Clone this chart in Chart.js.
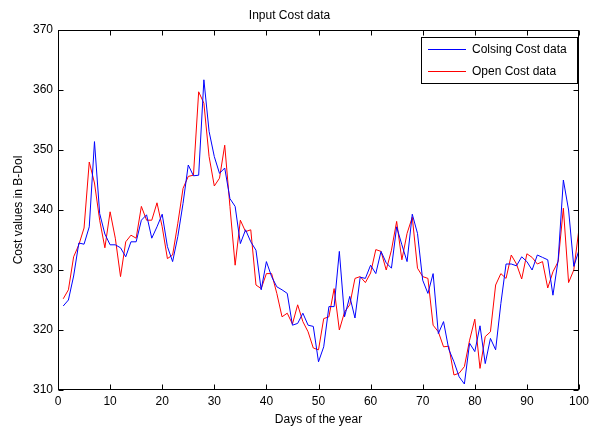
<!DOCTYPE html>
<html>
<head>
<meta charset="utf-8">
<script src="https://cdn.jsdelivr.net/npm/chart.js@4.4.1/dist/chart.umd.min.js"></script>
<style>
  html, body { margin: 0; padding: 0; background: #ffffff; }
  #wrap { width: 596px; height: 430px; position: relative; }
</style>
</head>
<body>
<div id="wrap"><canvas id="c" width="596" height="430"></canvas></div>
<script>
const days = [1,2,3,4,5,6,7,8,9,10,11,12,13,14,15,16,17,18,19,20,
  21,22,23,24,25,26,27,28,29,30,31,32,33,34,35,36,37,38,39,40,
  41,42,43,44,45,46,47,48,49,50,51,52,53,54,55,56,57,58,59,60,
  61,62,63,64,65,66,67,68,69,70,71,72,73,74,75,76,77,78,79,80,
  81,82,83,84,85,86,87,88,89,90,91,92,93,94,95,96,97,98,99,100];

const closingCost = [324.0,325.0,329.0,334.5,334.3,337.2,351.4,339.4,336.0,334.2,
  334.2,333.7,332.2,334.7,334.7,338.3,339.2,335.3,337.2,339.3,
  333.9,331.4,335.6,341.1,347.5,345.7,345.8,361.7,353.1,348.9,
  346.1,347.0,341.9,340.6,334.4,336.7,334.7,333.3,326.7,331.4,
  328.9,327.2,326.7,326.1,320.8,321.1,322.8,320.8,320.6,314.7,
  317.2,323.9,323.9,333.1,322.2,325.6,322.0,328.8,328.6,330.8,
  329.4,333.1,331.2,330.3,337.2,334.2,331.4,339.3,336.1,328.3,
  326.1,329.4,319.4,321.4,316.8,314.7,312.2,311.0,317.8,316.4,
  320.7,314.4,318.6,316.7,324.4,331.0,331.0,330.7,332.2,331.4,
  330.0,332.5,332.1,331.7,325.8,331.7,345.0,340.0,330.6,333.3];

const openCost = [325.2,326.7,332.2,334.2,337.0,348.0,344.5,338.3,333.7,339.7,
  335.3,328.9,334.7,335.8,335.3,340.6,338.3,338.3,341.2,337.2,
  331.9,332.5,337.8,343.6,345.6,345.8,359.7,357.8,348.9,344.0,
  345.3,350.8,340.6,330.8,338.3,336.4,336.7,327.5,326.9,329.4,
  329.4,326.1,322.2,322.8,321.0,324.2,321.4,319.7,317.0,316.7,
  321.9,322.2,326.9,320.0,323.0,324.2,328.6,328.9,327.9,329.5,
  333.4,333.1,330.0,333.3,338.1,331.7,336.1,338.8,330.3,328.9,
  328.6,320.8,319.7,317.2,317.3,312.5,312.8,313.9,318.3,321.8,
  313.6,318.9,319.7,327.5,329.4,328.6,332.5,331.0,328.5,332.7,
  332.1,331.0,331.4,327.0,329.7,331.4,340.3,327.9,330.0,336.9];

const seriesNames = ['Colsing Cost data', 'Open Cost data'];
const xTickValues = [0,10,20,30,40,50,60,70,80,90,100];
const yTickValues = [310,320,330,340,350,360,370];

const FONT = "'Liberation Sans', Arial, Helvetica, sans-serif";

const boxPlugin = {
  id: 'matlabBox',
  afterDraw(chart) {
    const ctx = chart.ctx;
    const a = chart.chartArea;
    const xs = chart.scales.x, ys = chart.scales.y;
    ctx.save();
    ctx.strokeStyle = '#000000';
    ctx.lineWidth = 1;
    const L = Math.round(a.left) + 0.5, R = Math.round(a.right) - 0.5;
    const T = Math.round(a.top) + 0.5, B = Math.round(a.bottom) - 0.5;
    ctx.strokeRect(L, T, R - L, B - T);
    ctx.beginPath();
    const tl = 5;
    xs.ticks.forEach(t => {
      const px = Math.round(xs.getPixelForValue(t.value)) + 0.5;
      ctx.moveTo(px, B); ctx.lineTo(px, B - tl);
      ctx.moveTo(px, T); ctx.lineTo(px, T + tl);
    });
    ys.ticks.forEach(t => {
      const py = Math.round(ys.getPixelForValue(t.value)) + 0.5;
      ctx.moveTo(L, py); ctx.lineTo(L + tl, py);
      ctx.moveTo(R, py); ctx.lineTo(R - tl, py);
    });
    ctx.stroke();

    // legend box (inside plot, top-right)
    const lx = 421.5, ly = 37.5, lw = 156, lh = 46;
    ctx.fillStyle = '#ffffff';
    ctx.fillRect(lx, ly, lw, lh);
    ctx.strokeRect(lx, ly, lw, lh);
    ctx.font = '12px ' + FONT;
    ctx.textBaseline = 'middle';
    ctx.textAlign = 'left';
    chart.data.datasets.forEach((ds, i) => {
      const cy = Math.round(ly + 11 + i * 22) + 0.5;
      ctx.strokeStyle = ds.borderColor;
      ctx.beginPath();
      ctx.moveTo(428, cy); ctx.lineTo(466, cy);
      ctx.stroke();
      ctx.fillStyle = '#000000';
      ctx.fillText(ds.label, 472, cy);
    });
    ctx.restore();
  }
};

const mk = (vals) => days.map((d, i) => ({x: d, y: vals[i]}));

new Chart(document.getElementById('c'), {
  type: 'line',
  data: {
    datasets: [
      { label: seriesNames[0], data: mk(closingCost), borderColor: '#0000ff', borderWidth: 1, pointRadius: 0, tension: 0, fill: false },
      { label: seriesNames[1], data: mk(openCost), borderColor: '#ff0000', borderWidth: 1, pointRadius: 0, tension: 0, fill: false }
    ]
  },
  options: {
    responsive: false,
    animation: false,
    devicePixelRatio: 1,
    layout: { padding: { left: 0, right: 17, top: 0, bottom: 0 } },
    plugins: {
      legend: { display: false },
      tooltip: { enabled: false },
      title: {
        display: true,
        text: 'Input Cost data',
        color: '#000000',
        font: { family: FONT, size: 12, weight: 'normal' },
        padding: { top: 8, bottom: 7.6 }
      }
    },
    scales: {
      x: {
        type: 'linear',
        min: 0, max: 100,
        afterBuildTicks: (s) => { s.ticks = xTickValues.map(v => ({value: v})); },
        afterFit: (s) => { s.height = 40; },
        grid: { display: false, drawTicks: false },
        border: { display: false },
        ticks: { color: '#000000', font: { family: FONT, size: 12 }, padding: 4, maxRotation: 0, autoSkip: false },
        title: { display: true, text: 'Days of the year', color: '#000000', font: { family: FONT, size: 12 }, padding: { top: 0, bottom: 3 } }
      },
      y: {
        type: 'linear',
        min: 310, max: 370,
        afterBuildTicks: (s) => { s.ticks = yTickValues.map(v => ({value: v})); },
        afterFit: (s) => { s.width = 58; },
        grid: { display: false, drawTicks: false },
        border: { display: false },
        ticks: { color: '#000000', font: { family: FONT, size: 12 }, padding: 5, autoSkip: false },
        title: { display: true, text: 'Cost values in B-Dol', color: '#000000', font: { family: FONT, size: 12 }, padding: { top: 11, bottom: 0 } }
      }
    }
  },
  plugins: [boxPlugin]
});
</script>
</body>
</html>
